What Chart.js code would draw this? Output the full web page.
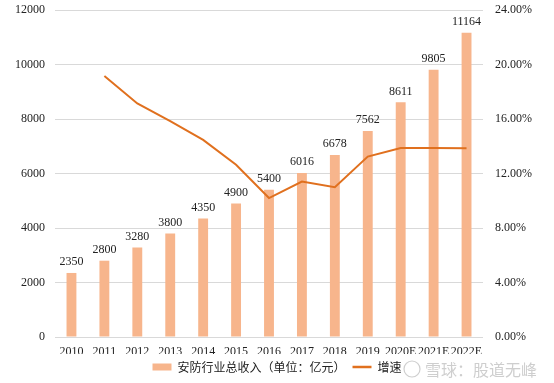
<!DOCTYPE html>
<html>
<head>
<meta charset="utf-8">
<script src="https://cdn.jsdelivr.net/npm/chart.js@4"></script>
<style>
  body { margin: 0; background: #fff; }
  #wrap { width: 554px; height: 383px; }
</style>
</head>
<body>
<div id="wrap"><canvas id="chart" width="554" height="383"></canvas></div>
<script>
// data
const years = ["2010", "2011", "2012", "2013", "2014", "2015", "2016", "2017", "2018", "2019", "2020E", "2021E", "2022E"];
const revenue = [2350, 2800, 3280, 3800, 4350, 4900, 5400, 6016, 6678, 7562, 8611, 9805, 11164];
const growth = [null, 19.15, 17.14, 15.85, 14.47, 12.64, 10.20, 11.41, 11.00, 13.24, 13.87, 13.87, 13.86];

const numFont = { family: "'Liberation Serif', serif", size: 12 };

// numbers above the bars
const barLabels = {
  id: "barLabels",
  afterDatasetsDraw(chart) {
    const ctx = chart.ctx;
    const meta = chart.getDatasetMeta(0);
    ctx.save();
    ctx.font = "12px 'Liberation Serif', serif";
    ctx.fillStyle = "#222";
    ctx.textAlign = "center";
    ctx.textBaseline = "bottom";
    meta.data.forEach((bar, i) => {
      ctx.fillText(revenue[i], bar.x, bar.y - 5);
    });
    ctx.restore();
  }
};

// faint watermark bottom right
const watermark = {
  id: "watermark",
  afterDraw(chart) {
    const ctx = chart.ctx;
    ctx.save();
    ctx.font = "16px 'Noto Sans CJK SC', sans-serif";
    ctx.fillStyle = "rgba(190,190,190,0.75)";
    ctx.textBaseline = "middle";
    ctx.fillText("雪球：股道无峰", 425, 370);
    ctx.strokeStyle = "rgba(190,190,190,0.75)";
    ctx.lineWidth = 1.2;
    ctx.beginPath();
    ctx.arc(412, 369, 8, 0, Math.PI * 2);
    ctx.stroke();
    ctx.restore();
  }
};

function fixY(width) {
  return s => {
    s.width = width;
    s.paddingTop = 0;
    s.paddingBottom = 0;
  };
}

const ctx = document.getElementById("chart").getContext("2d");
const chart = new Chart(ctx, {
  data: {
    labels: years,
    datasets: [
      {
        type: "bar",
        label: "安防行业总收入（单位：亿元）",
        data: revenue,
        backgroundColor: "#f7b58c",
        borderWidth: 0,
        barPercentage: 0.6,
        categoryPercentage: 0.5,
        yAxisID: "y",
        order: 2
      },
      {
        type: "line",
        label: "增速",
        data: growth,
        borderColor: "#e0701e",
        backgroundColor: "#e0701e",
        borderWidth: 2,
        pointRadius: 0,
        tension: 0,
        yAxisID: "y1",
        order: 1
      }
    ]
  },
  options: {
    responsive: false,
    animation: false,
    layout: { padding: { top: 10, left: 0, right: 0, bottom: 0 } },
    plugins: {
      tooltip: { enabled: false },
      legend: {
        position: "bottom",
        labels: {
          color: "#222",
          font: { family: "'Noto Sans CJK SC', sans-serif", size: 12 },
          usePointStyle: true,
          pointStyleWidth: 19,
          boxHeight: 7,
          padding: 7,
          generateLabels(chart) {
            const items = Chart.defaults.plugins.legend.labels.generateLabels(chart);
            items.sort((a, b) => a.datasetIndex - b.datasetIndex);
            items.forEach(it => {
              if (it.datasetIndex === 0) {
                it.pointStyle = "rect";
              } else {
                it.pointStyle = "line";
                it.lineWidth = 2.5;
              }
            });
            return items;
          }
        }
      }
    },
    scales: {
      x: {
        grid: { display: false },
        border: { display: false },
        ticks: { color: "#222", font: numFont, maxRotation: 0, autoSkip: false, padding: 0 },
        afterFit(s) { s.height = 17; }
      },
      y: {
        position: "left",
        min: 0,
        max: 12000,
        ticks: { stepSize: 2000, color: "#222", font: numFont, padding: 10, callback: v => String(v) },
        grid: { color: "#d9d9d9", drawTicks: false },
        border: { display: false },
        afterFit: fixY(55)
      },
      y1: {
        position: "right",
        min: 0,
        max: 24,
        ticks: {
          stepSize: 4,
          color: "#222",
          font: numFont,
          padding: 12,
          callback: v => v.toFixed(2) + "%"
        },
        grid: { display: false, drawTicks: false },
        border: { display: false },
        afterFit: fixY(71)
      }
    }
  },
  plugins: [barLabels, watermark]
});
</script>
</body>
</html>
